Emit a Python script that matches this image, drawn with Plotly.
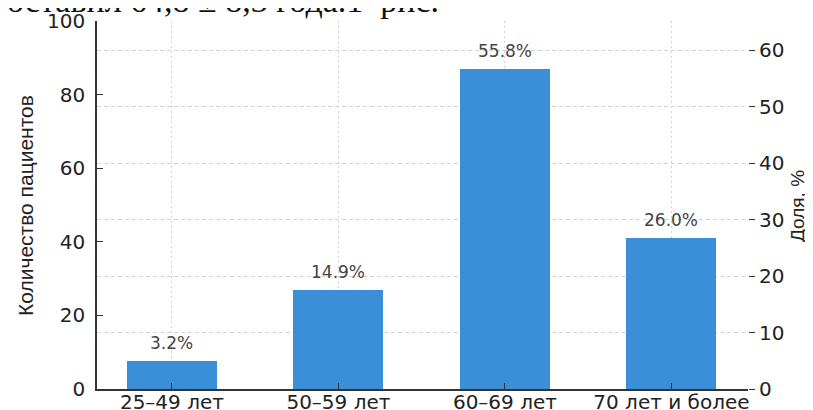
import plotly.graph_objects as go

categories = ["25–49 лет", "50–59 лет", "60–69 лет", "70 лет и более"]
counts = [7.5, 27, 87, 41]
shares = [3.2, 14.9, 55.8, 26.0]
left_ticks = [0, 20, 40, 60, 80, 100]
right_ticks = [0, 10, 20, 30, 40, 50, 60]
top_text = "составил 64,8 ± 8,3 года.1  рис."

# the page body adds an 8px margin; compensate so page pixels match
OFF = 8
W, H = 813 - OFF, 410 - OFF
ml, mt = 97 - OFF, 21 - OFF
pw, ph = 651, 368
mr, mb = W - ml - pw, H - mt - ph

bar_color = "#3a8fd6"
axis_color = "#333333"
grid_color = "#d2d2d2"


def px_x(x):  # page pixel -> paper
    return (x - OFF - ml) / pw


def px_y(y):
    return (mt + ph - (y - OFF)) / ph


fig = go.Figure()
fig.add_trace(go.Bar(
    x=categories, y=counts, width=0.54,
    marker=dict(color=bar_color, line=dict(width=0)),
    hoverinfo="skip", showlegend=False,
))
fig.add_trace(go.Scatter(
    x=categories, y=shares, yaxis="y2", mode="markers",
    marker=dict(opacity=0), hoverinfo="skip", showlegend=False,
))

annotations = []
for c, v, s in zip(categories, counts, shares):
    annotations.append(dict(
        x=c, y=v, xref="x", yref="y", text=f"{s:.1f}%",
        showarrow=False, yanchor="bottom", yshift=6,
        font=dict(family="DejaVu Sans", size=17, color="#444444"),
    ))

annotations.append(dict(
    x=px_x(25), y=px_y(206), xref="paper", yref="paper",
    text="Количество пациентов", textangle=-90, showarrow=False,
    xanchor="center", yanchor="middle",
    font=dict(family="Liberation Sans", size=21, color="#222222"),
))
annotations.append(dict(
    x=px_x(797), y=px_y(206), xref="paper", yref="paper",
    text="Доля, %", textangle=-90, showarrow=False,
    xanchor="center", yanchor="middle",
    font=dict(family="Liberation Sans", size=19, color="#222222"),
))
annotations.append(dict(
    x=px_x(-10), y=px_y(1), xref="paper", yref="paper",
    text=top_text, showarrow=False, xanchor="left", yanchor="middle",
    font=dict(family="Liberation Serif", size=34, color="#111111"),
))

fig.update_layout(
    template="none",
    width=W, height=H,
    margin=dict(l=ml, r=mr, t=mt, b=mb, pad=0, autoexpand=False),
    paper_bgcolor="white", plot_bgcolor="white",
    bargap=0,
    annotations=annotations,
    xaxis=dict(
        type="category", range=[-0.45, 3.46], automargin=False,
        showline=True, linecolor=axis_color, linewidth=1.5,
        ticks="inside", ticklen=6, tickcolor=axis_color,
        showgrid=True, gridcolor=grid_color, griddash="2px,3px", gridwidth=1,
        tickfont=dict(family="DejaVu Sans", size=20, color="#222222"),
        ticklabelstandoff=-6,
        zeroline=False,
    ),
    yaxis=dict(
        range=[0, 100], tickvals=left_ticks, automargin=False,
        showline=True, linecolor=axis_color, linewidth=1.5,
        ticks="inside", ticklen=6, tickcolor=axis_color,
        showgrid=False, zeroline=False,
        tickfont=dict(family="DejaVu Sans", size=20, color="#222222"),
        ticklabelstandoff=6,
    ),
    yaxis2=dict(
        overlaying="y", side="right", automargin=False,
        range=[0, 100 * 3.686 / 5.655], tickvals=right_ticks,
        showline=False,
        ticks="outside", ticklen=6, tickcolor=axis_color,
        showgrid=True, gridcolor=grid_color, griddash="4px,3px", gridwidth=1,
        zeroline=False,
        tickfont=dict(family="DejaVu Sans", size=20, color="#222222"),
        ticklabelstandoff=0,
    ),
)

fig.write_html("out.html")
